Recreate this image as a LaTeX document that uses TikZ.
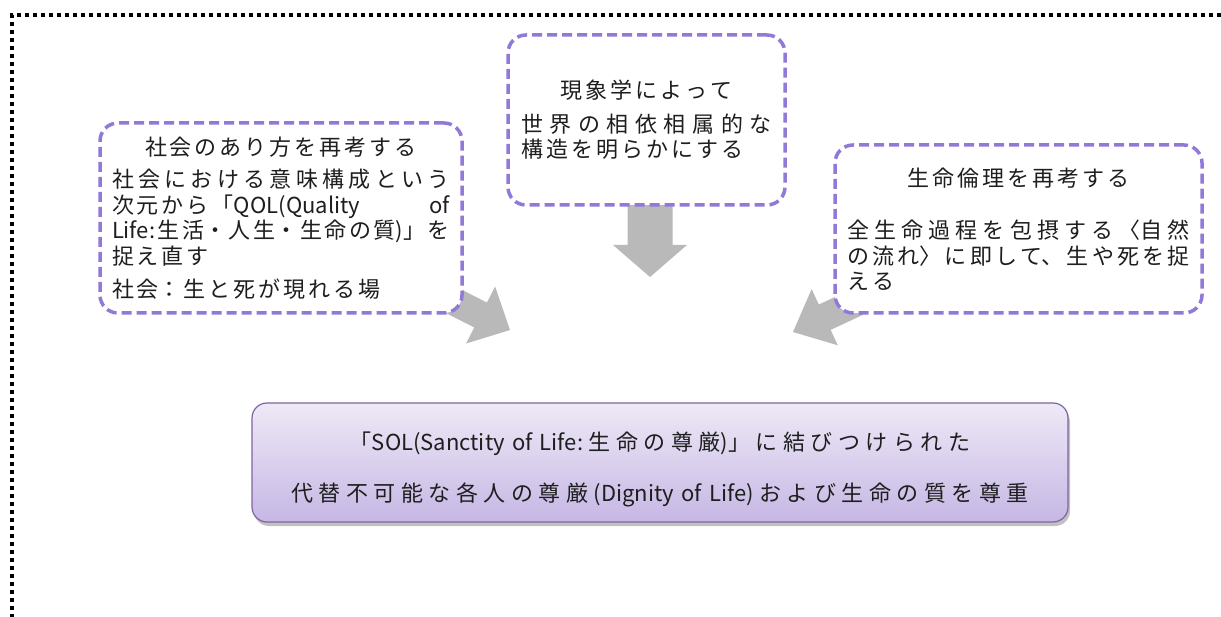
\documentclass[tikz,border=0pt]{standalone}
\usepackage{fontspec}
\setmainfont{Noto Sans CJK JP}
\usetikzlibrary{shadows}
\definecolor{dashpurple}{RGB}{145,122,215}
\definecolor{arrowgray}{RGB}{185,185,185}
\definecolor{boxborder}{RGB}{128,100,162}
\definecolor{boxtop}{RGB}{238,233,247}
\definecolor{boxbot}{RGB}{198,183,228}
\definecolor{txtcol}{RGB}{30,30,30}
\XeTeXlinebreaklocale "ja"
\XeTeXlinebreakskip=3pt plus 6pt minus 2pt
\tolerance=10000
\emergencystretch=0pt
\tikzset{
  dbox/.style={draw=dashpurple, line width=3.5pt, dash pattern=on 10pt off 5pt,
    rounded corners=18pt, fill=white, text=txtcol,
    font=\fontsize{22}{25.5}\selectfont, align=justify, inner ysep=0pt},
  bigarrow/.style={fill=arrowgray, draw=none},
  sbox/.style={draw=boxborder, line width=1.2pt, rounded corners=15pt,
    top color=boxtop, bottom color=boxbot,
    drop shadow={shadow xshift=2pt, shadow yshift=-4pt, opacity=0.35, fill=black!70}},
  btext/.style={text=txtcol, align=center, inner sep=0pt,
    font={\fontsize{22}{51}\selectfont\XeTeXlinebreakskip=5.5pt\relax}},
  frame/.style={black, line width=3.5pt, dash pattern=on 4pt off 4pt}
}
\begin{document}
\begin{tikzpicture}[x=1pt,y=-1pt]
\useasboundingbox (0,0) rectangle (1221,617);
% dotted frame
\coordinate (ftr) at (1221,15);
\coordinate (ftl) at (12,15);
\coordinate (fbl) at (12,617);
\draw[frame] (ftr) -- (ftl) -- (fbl);
% block arrows (drawn first, boxes cover their tails)
\fill[bigarrow, shift={(510,330)}, rotate=-27]
  (0,0) -- (-33,32) -- (-33,14) -- (-90,14) -- (-90,-14) -- (-33,-14) -- (-33,-32) -- cycle;
\fill[bigarrow, shift={(650,277)}, rotate=-90]
  (0,0) -- (-32,37) -- (-32,22.5) -- (-74,22.5) -- (-74,-22.5) -- (-32,-22.5) -- (-32,-37) -- cycle;
\fill[bigarrow, shift={(793,332)}, rotate=205]
  (0,0) -- (-35,31) -- (-35,14) -- (-90,14) -- (-90,-14) -- (-35,-14) -- (-35,-31) -- cycle;
% dashed boxes
\node[dbox, text width=338pt, inner xsep=12pt, minimum height=190pt] (b1) at (281,218)
{{\centering 社会のあり方を再考する\par}\vspace{7pt}社会における意味構成という\linebreak 次元から「QOL(Quality\hfill of\linebreak Life:生活・人生・生命の質)」を\linebreak 捉え直す\par\vspace{8pt}社会：生と死が現れる場};
\node[dbox, text width=250pt, inner xsep=13.5pt, minimum height=170pt] (b2) at (646.5,120)
{{\centering 現象学によって\par}\vspace{8pt}世界の相依相属的な\linebreak 構造を明らかにする};
\node[dbox, text width=343pt, inner xsep=12pt, minimum height=168pt] (b3) at (1018.5,229)
{{\centering 生命倫理を再考する\par}\vspace{27pt}全生命過程を包摂する〈自然\linebreak の流れ〉に即して、生や死を捉\linebreak える};
% bottom box
\node[sbox, minimum width=816pt, minimum height=119pt] (b4) at (660,462.5) {};
\node[btext, text width=800pt] (t4) at (660,469.5)
{「SOL(Sanctity of Life:生命の尊厳)」に結びつけられた\\代替不可能な各人の尊厳(Dignity of Life)および生命の質を尊重};
\end{tikzpicture}
\end{document}
